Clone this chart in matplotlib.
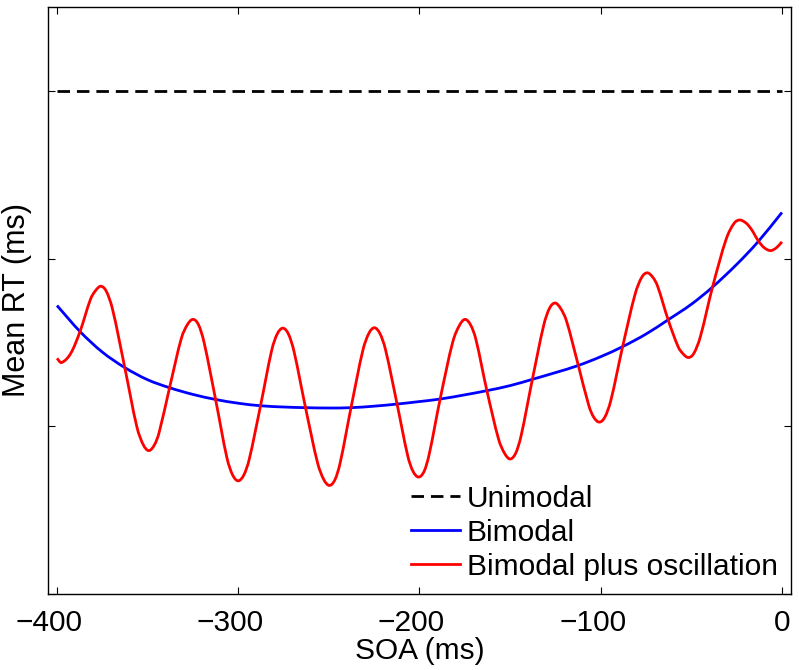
import numpy as np
import matplotlib.pyplot as plt
import matplotlib.transforms as mtransforms
from matplotlib.path import Path
from matplotlib.patches import PathPatch
from matplotlib.lines import Line2D

plt.rcParams['font.family'] = ['Liberation Sans', 'DejaVu Sans']

# values (SOA in ms, RT in arbitrary ms units)
unimodal_x = [-400, 0]
unimodal_rt = [260, 260]

bimodal_soa = [-400, -387.3, -375, -362.6, -350, -337.9, -325, -312.5, -300, -287.7,
               -275, -262.9, -250, -237.7, -225, -212.4, -200, -188.6, -175, -162.8,
               -150, -137.7, -125, -112.4, -100, -87.9, -75, -62.8, -50, -38.3,
               -25, -13.2, 0]
bimodal_rt = [234.4, 231.3, 228.85, 227.0, 225.55, 224.6, 223.8, 223.2, 222.75, 222.45,
              222.3, 222.22, 222.18, 222.22, 222.4, 222.65, 222.95, 223.25, 223.75, 224.25,
              224.85, 225.6, 226.4, 227.25, 228.3, 229.5, 231.0, 232.7, 234.55, 236.6,
              239.3, 242.0, 245.5]

osc_soa = [-400.0, -397.5, -392.4, -387.3, -381.6, -379.0, -375.9, -372.8, -369.3, -362.6,
           -356.0, -352.4, -349.3, -346.2, -343.6, -337.9, -331.5, -328.1, -325.0, -321.9,
           -318.8, -312.5, -306.3, -303.1, -300.0, -296.9, -293.9, -287.7, -281.6, -278.5,
           -275.4, -272.3, -269.2, -262.9, -256.3, -252.8, -249.7, -246.6, -243.7, -237.7,
           -231.3, -228.0, -224.9, -221.8, -218.7, -212.4, -206.5, -203.6, -200.5, -197.4,
           -194.6, -188.6, -181.7, -177.9, -174.8, -171.7, -168.8, -162.8, -156.4, -153.1,
           -150.0, -146.9, -143.9, -137.7, -131.5, -128.3, -125.2, -122.1, -118.8, -112.4,
           -106.6, -103.9, -100.8, -97.7, -94.4, -87.9, -81.1, -77.4, -74.3, -71.2,
           -68.6, -62.8, -57.3, -54.8, -51.7, -48.6, -45.0, -38.3, -30.8, -26.4,
           -23.3, -20.2, -18.3, -16.0, -13.2, -9.8, -6.3, -3.0, 0.0]
osc_rt = [228.1, 227.6, 228.7, 231.3, 235.1, 236.1, 236.7, 236.1, 233.9, 227.0,
          220.0, 217.8, 217.1, 217.8, 219.3, 224.6, 230.4, 232.1, 232.75, 232.1,
          229.95, 223.2, 216.3, 214.2, 213.5, 214.2, 216.1, 222.45, 229.0, 231.0,
          231.7, 231.0, 228.9, 222.25, 215.7, 213.65, 212.95, 213.65, 215.7, 222.3,
          229.0, 231.05, 231.75, 231.05, 229.1, 222.7, 216.5, 214.65, 213.95, 214.65,
          216.7, 223.25, 230.0, 232.05, 232.75, 232.05, 230.3, 224.25, 218.5, 216.8,
          216.1, 216.8, 218.9, 225.6, 232.0, 234.05, 234.7, 234.05, 232.5, 227.3,
          222.5, 221.1, 220.5, 221.1, 223.1, 229.5, 235.7, 237.75, 238.3, 237.75,
          236.7, 232.7, 229.5, 228.7, 228.2, 228.7, 230.7, 236.6, 242.3, 244.2,
          244.6, 244.3, 243.9, 243.2, 242.15, 241.3, 240.95, 241.3, 242.0]

xticks = [-400, -300, -200, -100, 0]
yticks = [200, 220, 240, 260]
labels = ['Unimodal', 'Bimodal', 'Bimodal plus oscillation']
colors = ['black', '#0000ff', '#ff0000']


def smooth_path(x, y):
    # cubic through every read point (central-difference tangents),
    # drawn as bezier segments so the line has no corners
    x = np.asarray(x, float)
    y = np.asarray(y, float)
    h = np.diff(x)
    m = np.empty_like(y)
    m[1:-1] = (y[2:] - y[:-2]) / (x[2:] - x[:-2])
    m[0] = (y[1] - y[0]) / h[0]
    m[-1] = (y[-1] - y[-2]) / h[-1]
    verts = [(x[0], y[0])]
    codes = [Path.MOVETO]
    for i in range(len(x) - 1):
        verts += [(x[i] + h[i] / 3, y[i] + m[i] * h[i] / 3),
                  (x[i + 1] - h[i] / 3, y[i + 1] - m[i + 1] * h[i] / 3),
                  (x[i + 1], y[i + 1])]
        codes += [Path.CURVE4] * 3
    return Path(verts, codes)


fig = plt.figure(figsize=(7.99, 6.70), dpi=100)
ax = fig.add_axes([0.060, 0.1134, 0.930, 0.8762])

dash = (4.5, 2.5)
ax.plot(unimodal_x, unimodal_rt, color=colors[0], lw=2, dashes=dash)
ax.add_patch(PathPatch(smooth_path(bimodal_soa, bimodal_rt), fill=False,
                       edgecolor=colors[1], lw=2, capstyle='butt'))
ax.add_patch(PathPatch(smooth_path(osc_soa, osc_rt), fill=False,
                       edgecolor=colors[2], lw=2, capstyle='butt'))

ax.set_xlim(-405, 5)
ax.set_ylim(200, 270)
ax.set_xticks(xticks)
ax.set_xticklabels([str(t).replace('-', '\u2212') for t in xticks])
ax.set_yticks(yticks)
ax.set_yticklabels([])
ax.tick_params(direction='in', length=5, width=0.8, top=True, right=True,
               labelsize=21.5)
ax.tick_params(axis='x', pad=11)
for s in ax.spines.values():
    s.set_linewidth(1.0)

# negative labels sit a little left of their ticks in the reference
shift = mtransforms.ScaledTranslation(-8 / 100, 0, fig.dpi_scale_trans)
for t, lab in zip(xticks, ax.get_xticklabels()):
    if t < 0:
        lab.set_transform(lab.get_transform() + shift)

ax.set_xlabel('SOA (ms)', fontsize=21.5, labelpad=0)
ax.set_ylabel('Mean RT (ms)', fontsize=22)
ax.yaxis.set_label_coords(-0.021, 0.5)

handles = [Line2D([], [], color=colors[0], lw=2, dashes=dash),
           Line2D([], [], color=colors[1], lw=2),
           Line2D([], [], color=colors[2], lw=2)]
ax.legend(handles, labels, loc='lower right', frameon=False, fontsize=21.5,
          handlelength=1.65, handletextpad=0.22, labelspacing=0.2,
          borderpad=0.2, borderaxespad=0.25)

fig.savefig('out.png', dpi=100)
